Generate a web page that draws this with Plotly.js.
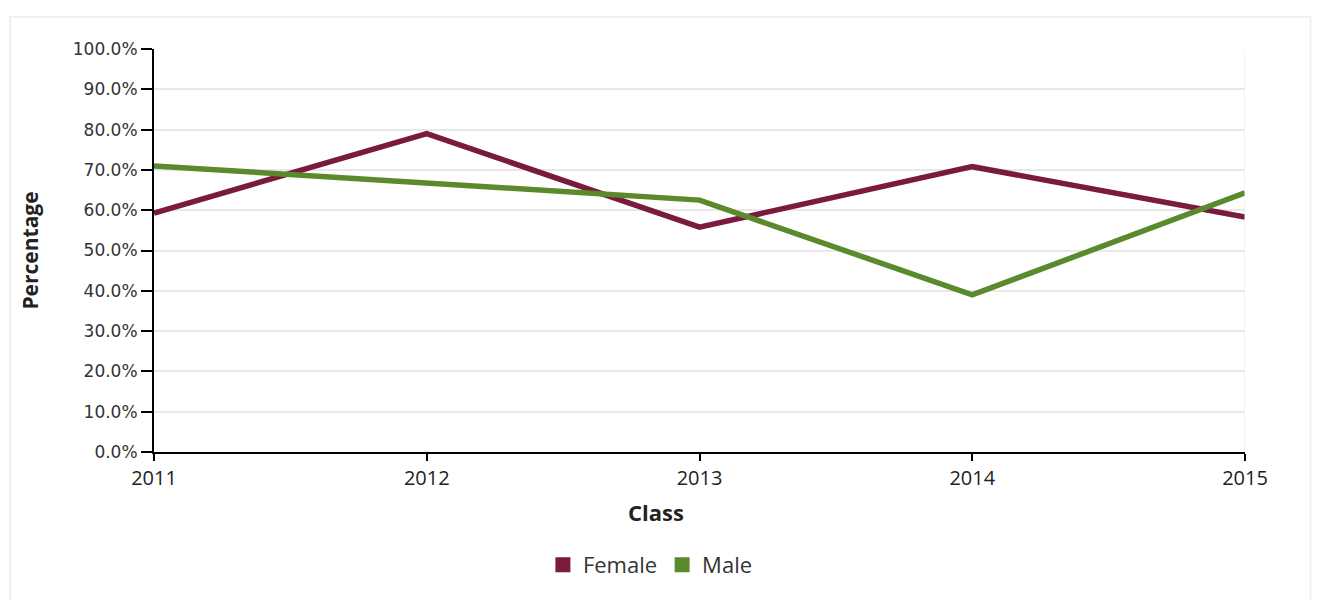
<!DOCTYPE html>
<html>
<head>
<meta charset="utf-8">
<script src="https://cdn.plot.ly/plotly-3.0.1.min.js"></script>
<style>
html,body{margin:0;padding:0;background:#fff;}
#chart{width:1320px;height:600px;}
</style>
</head>
<body>
<div id="chart"></div>
<script>
const years = [2011, 2012, 2013, 2014, 2015];
const female = [59.3, 79.0, 55.8, 70.8, 58.3];
const male = [71.0, 66.7, 62.5, 39.0, 64.3];
const yTicks = [0, 10, 20, 30, 40, 50, 60, 70, 80, 90, 100];
const seriesNames = ['Female', 'Male'];
const seriesColors = ['#7a1a3d', '#5b8a2c'];

const traces = [
  {x: years, y: female, name: seriesNames[0], type: 'scatter', mode: 'lines',
   line: {color: seriesColors[0], width: 5.5}, showlegend: false},
  {x: years, y: male, name: seriesNames[1], type: 'scatter', mode: 'lines',
   line: {color: seriesColors[1], width: 5.5}, showlegend: false},
  {x: [null], y: [null], name: seriesNames[0], type: 'scatter', mode: 'markers',
   marker: {symbol: 'square', size: 15, color: seriesColors[0]}},
  {x: [null], y: [null], name: seriesNames[1], type: 'scatter', mode: 'markers',
   marker: {symbol: 'square', size: 15, color: seriesColors[1]}}
];

const layout = {
  width: 1320, height: 600,
  margin: {l: 154, r: 75, t: 49, b: 148},
  paper_bgcolor: '#ffffff', plot_bgcolor: '#ffffff',
  showlegend: true,
  legend: {orientation: 'h', x: 0.455, xanchor: 'center', y: -0.28, yanchor: 'middle',
           font: {family: 'Open Sans, sans-serif', size: 22, color: '#333'},
           itemwidth: 30, tracegroupgap: 0, bgcolor: 'rgba(0,0,0,0)'},
  xaxis: {
    range: [2011, 2015], tickvals: years, ticktext: years.map(String),
    showline: true, linecolor: '#000', linewidth: 2,
    ticks: 'outside', ticklen: 7, tickcolor: '#000', tickwidth: 2,
    showgrid: false, zeroline: false,
    tickfont: {family: 'Open Sans, sans-serif', size: 20, color: '#222'}
  },
  yaxis: {
    range: [0, 100], tickvals: yTicks, ticktext: yTicks.map(v => v.toFixed(1) + '%'),
    showline: true, linecolor: '#000', linewidth: 2,
    ticks: 'outside', ticklen: 11, tickcolor: '#000', tickwidth: 2,
    showgrid: true, gridcolor: '#e8e8e8', gridwidth: 2, zeroline: false,
    tickfont: {family: 'DejaVu Sans, sans-serif', size: 17, color: '#333'},
    title: {text: 'Percentage', font: {family: 'Open Sans, sans-serif', size: 21, color: '#222', weight: 'bold'}, standoff: 28}
  },
  annotations: [
    {text: 'Class', xref: 'paper', yref: 'paper', x: 0.460, y: -0.148, yanchor: 'middle',
     xanchor: 'center', showarrow: false,
     font: {family: 'Open Sans, sans-serif', size: 22, color: '#222', weight: 'bold'}}
  ],
  shapes: [
    {type: 'line', xref: 'x', yref: 'paper', x0: 2015, x1: 2015, y0: 0, y1: 1,
     line: {color: '#e6e6e6', width: 1}},
    {type: 'rect', xref: 'paper', yref: 'paper', x0: -0.132, x1: 1.06, y0: -0.4, y1: 1.08,
     line: {color: '#eeeeee', width: 2}, fillcolor: 'rgba(0,0,0,0)', layer: 'below'}
  ]
};

Plotly.newPlot('chart', traces, layout, {displayModeBar: false, staticPlot: true});
</script>
</body>
</html>
